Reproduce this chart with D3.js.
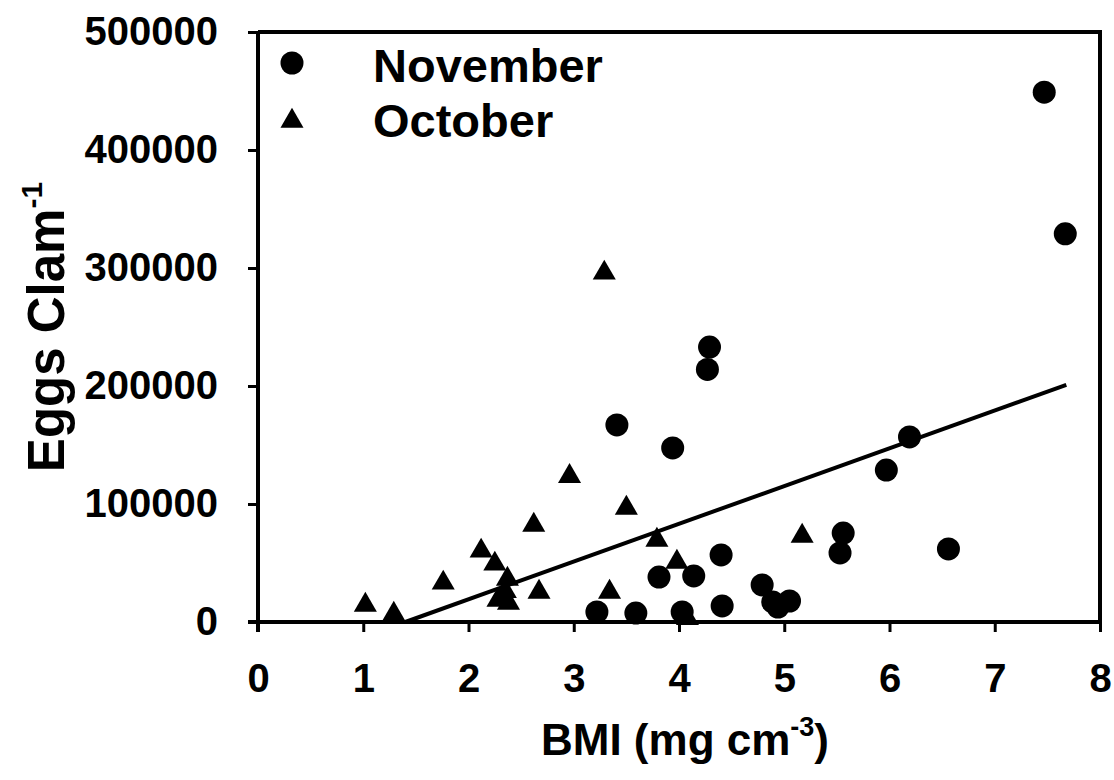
<!DOCTYPE html>
<html>
<head>
<meta charset="utf-8">
<script src="https://cdn.jsdelivr.net/npm/d3@7"></script>
<style>
  html, body { margin: 0; padding: 0; background: #fff; }
  svg { display: block; font-family: "Liberation Sans", Arial, sans-serif; font-weight: bold; }
</style>
</head>
<body>
<svg id="chart" width="1114" height="780"></svg>
<script>
// ---- Data ----
const novemberBMI  = [7.47, 7.67, 4.29, 4.27, 3.41, 3.94, 6.19, 5.97, 5.56, 5.53, 6.56, 4.40, 3.81, 4.14, 4.79, 3.22, 3.59, 4.03, 4.41, 5.05, 4.89, 4.94];
const novemberEggs = [449000, 329000, 233000, 214000, 167000, 147500, 156800, 128800, 75400, 58500, 61900, 56800, 38100, 39000, 31400, 8500, 7600, 8500, 13600, 17800, 17000, 12700];

const octoberBMI  = [3.29, 2.96, 3.50, 3.79, 5.17, 3.98, 3.34, 2.62, 2.12, 2.25, 2.37, 1.76, 2.35, 2.67, 2.28, 2.38, 1.02, 1.29, 4.08];
const octoberEggs = [295800, 123500, 96600, 69500, 72900, 50800, 25400, 82200, 60200, 49200, 36400, 33100, 26000, 25400, 18600, 16100, 14400, 6800, 3000];

const fitBMI  = [1.40, 7.68];
const fitEggs = [0, 201000];

const xTicks = [0, 1, 2, 3, 4, 5, 6, 7, 8];
const yTicks = [0, 100000, 200000, 300000, 400000, 500000];
const seriesNames = ["November", "October"];

// ---- Layout ----
const svg = d3.select("#chart");
const mLeft = 258, mRight = 1100, mTop = 32, mBottom = 622;

const x = d3.scaleLinear().domain([0, 8]).range([mLeft, mRight]);
const y = d3.scaleLinear().domain([0, 500000]).range([mBottom, mTop]);

// frame (top & right)
svg.append("path")
  .attr("d", `M${mLeft},${mTop}H${mRight}V${mBottom}`)
  .attr("fill", "none").attr("stroke", "#000").attr("stroke-width", 4);

// axes
const xAxis = svg.append("g").attr("transform", `translate(0,${mBottom})`)
  .call(d3.axisBottom(x).tickValues(xTicks).tickFormat(d3.format("d")).tickSize(10).tickPadding(32));
const yAxis = svg.append("g").attr("transform", `translate(${mLeft},0)`)
  .call(d3.axisLeft(y).tickValues(yTicks).tickFormat(d3.format("d")).tickSize(10).tickPadding(30));

[xAxis, yAxis].forEach(g => {
  g.select(".domain").attr("stroke-width", 4).attr("stroke", "#000");
  g.selectAll(".tick line").attr("stroke-width", 3).attr("stroke", "#000");
  g.selectAll(".tick text").attr("font-size", 40).attr("font-weight", "bold")
    .attr("font-family", "Liberation Sans, Arial, sans-serif").attr("fill", "#000");
});
xAxis.select(".domain").attr("d", `M${mLeft - 10},0H${mRight}`);
yAxis.select(".domain").attr("d", `M0,${10}V${mTop - mBottom}`).attr("transform", `translate(0,${mBottom})`);

// regression line
svg.append("path")
  .datum(fitBMI.map((v, i) => [v, fitEggs[i]]))
  .attr("d", d3.line().x(d => x(d[0])).y(d => y(d[1])))
  .attr("stroke", "#000").attr("stroke-width", 4).attr("fill", "none");

// markers
const circleSym = d3.symbol().type(d3.symbolCircle).size(Math.PI * 11.5 * 11.5);
const triSym = d3.symbol().type(d3.symbolTriangle).size(230);

svg.append("g").selectAll("path")
  .data(octoberBMI.map((v, i) => [v, octoberEggs[i]]))
  .join("path")
  .attr("d", triSym)
  .attr("transform", d => `translate(${x(d[0])},${y(d[1])})`)
  .attr("fill", "#000");

svg.append("g").selectAll("path")
  .data(novemberBMI.map((v, i) => [v, novemberEggs[i]]))
  .join("path")
  .attr("d", circleSym)
  .attr("transform", d => `translate(${x(d[0])},${y(d[1])})`)
  .attr("fill", "#000");

// legend
const legend = svg.append("g");
legend.append("path").attr("d", circleSym).attr("transform", "translate(292,63)").attr("fill", "#000");
legend.append("path").attr("d", triSym).attr("transform", "translate(292,121)").attr("fill", "#000");
legend.append("text").attr("x", 373).attr("y", 82).attr("font-size", 47).text(seriesNames[0]);
legend.append("text").attr("x", 373).attr("y", 137).attr("font-size", 47).text(seriesNames[1]);

// x axis title
const xt = svg.append("text").attr("x", (mLeft + mRight) / 2 + 6).attr("y", 755)
  .attr("text-anchor", "middle").attr("font-size", 44);
xt.append("tspan").text("BMI (mg cm");
xt.append("tspan").attr("font-size", 27).attr("dy", -19).text("-3");
xt.append("tspan").attr("dy", 19).text(")");

// y axis title
const yt = svg.append("text")
  .attr("transform", `translate(64,${(mTop + mBottom) / 2}) rotate(-90)`)
  .attr("text-anchor", "middle").attr("font-size", 51);
yt.append("tspan").text("Eggs Clam");
yt.append("tspan").attr("font-size", 30).attr("dy", -22).text("-1");
</script>
</body>
</html>
